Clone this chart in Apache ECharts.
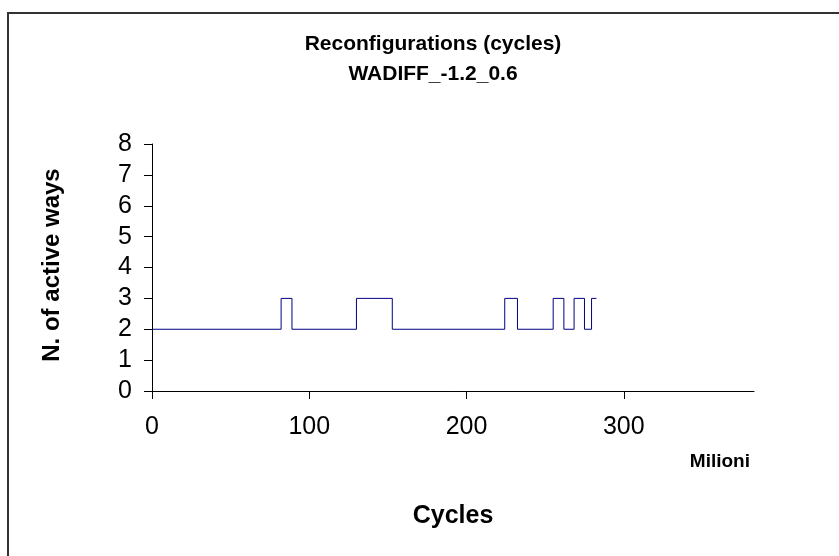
<!DOCTYPE html>
<html>
<head>
<meta charset="utf-8">
<script src="https://cdn.jsdelivr.net/npm/echarts@6/dist/echarts.min.js"></script>
<style>
  html, body { margin: 0; padding: 0; background: #fff; }
  #main { width: 839px; height: 556px; }
</style>
</head>
<body>
<div id="main"></div>
<script>
// cycles (millions) where the number of active ways changes
const cycles = [0, 82.1, 89.0, 130.0, 152.8, 224.3, 232.4, 255.1, 261.9, 268.4, 275.0, 279.5, 282.6];
// active ways from that point on
const activeWays = [2, 3, 2, 3, 2, 3, 2, 3, 2, 3, 2, 3, 3];
const xTicks = [0, 100, 200, 300];
const yMax = 8;
const xMax = 382.8;

const font = "'Liberation Sans', Arial, sans-serif";

let chart = echarts.init(document.getElementById("main"));

let option = {
  backgroundColor: "#fff",
  animation: false,
  title: {
    text: "Reconfigurations (cycles)\nWADIFF_-1.2_0.6",
    left: 428,
    top: 24,
    textAlign: "center",
    textStyle: {
      fontFamily: font,
      fontSize: 21,
      fontWeight: "bold",
      color: "#000",
      lineHeight: 30
    }
  },
  grid: { left: 152, right: 85, top: 144, bottom: 165 },
  xAxis: {
    type: "value",
    min: 0,
    max: xMax,
    interval: 100,
    splitLine: { show: false },
    axisLine: { lineStyle: { color: "#000", width: 1 } },
    axisTick: { show: true, length: 8, customValues: xTicks, lineStyle: { color: "#000" } },
    axisLabel: {
      customValues: xTicks,
      margin: 24,
      fontFamily: font,
      fontSize: 25,
      color: "#000"
    }
  },
  yAxis: {
    type: "value",
    min: 0,
    max: yMax,
    interval: 1,
    splitLine: { show: false },
    axisLine: { show: true, lineStyle: { color: "#000", width: 1 } },
    axisTick: { show: true, length: 8, lineStyle: { color: "#000" } },
    axisLabel: {
      margin: 20,
      fontFamily: font,
      fontSize: 25,
      color: "#000"
    }
  },
  series: [
    {
      type: "line",
      step: "end",
      symbol: "none",
      data: cycles.map((c, i) => [c, activeWays[i]]),
      lineStyle: { color: "#000080", width: 1 }
    }
  ],
  graphic: [
    {
      type: "rect",
      shape: { x: 8, y: 13, width: 900, height: 600 },
      style: { fill: "none", stroke: "#333", lineWidth: 2 },
      silent: true
    },
    {
      type: "text",
      x: 453,
      y: 516,
      style: {
        text: "Cycles",
        font: "bold 25px " + font,
        fill: "#000",
        textAlign: "center",
        textVerticalAlign: "middle"
      }
    },
    {
      type: "text",
      x: 750,
      y: 462,
      style: {
        text: "Milioni",
        font: "bold 19px " + font,
        fill: "#000",
        textAlign: "right",
        textVerticalAlign: "middle"
      }
    },
    {
      type: "text",
      x: 52,
      y: 265,
      rotation: Math.PI / 2,
      style: {
        text: "N. of active ways",
        font: "bold 24px " + font,
        fill: "#000",
        textAlign: "center",
        textVerticalAlign: "middle"
      }
    }
  ]
};

chart.setOption(option);
</script>
</body>
</html>
